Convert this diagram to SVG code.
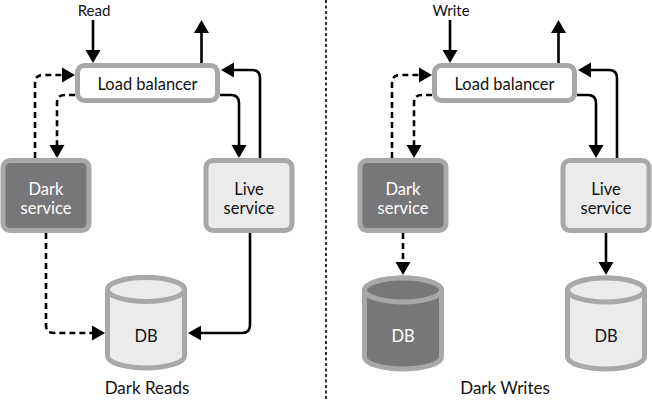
<svg xmlns="http://www.w3.org/2000/svg" width="652" height="400" viewBox="0 0 652 400">
<style>
text{font-family:Lato,"Liberation Sans",sans-serif;text-anchor:middle;fill:#111}
.lb{fill:#fff;stroke:#a8a8aa;stroke-width:5}
.dark{fill:#77777a;stroke:#a8a8aa;stroke-width:5}
.live{fill:#ebebec;stroke:#a8a8aa;stroke-width:5}
.wt{fill:#fff}
.c{fill:none;stroke:#000;stroke-width:2.6}
.d{stroke-dasharray:6 4}
.lbl{font-size:16.5px}
.top{font-size:15px}
.cap{font-size:17px}
</style>
<defs>
<marker id="ah" markerUnits="userSpaceOnUse" markerWidth="14" markerHeight="15" refX="0" refY="7.5" orient="auto" overflow="visible">
<path d="M0,0 L13,7.5 L0,15 z" fill="#000"/>
</marker>
</defs>
<line x1="326" y1="0" x2="326" y2="400" stroke="#000" stroke-width="1.6" stroke-dasharray="3 2.5"/>
<g id="connectors" class="conn">
<path class="c" marker-end="url(#ah)" d="M93,20 V50"/>
<path class="c" marker-end="url(#ah)" d="M201.5,63 V33"/>
<path class="c" marker-end="url(#ah)" d="M260,158 V78 Q260,70 252,70 H234"/>
<path class="c" marker-end="url(#ah)" d="M220,95 H231 Q239,95 239,103 V145"/>
<path class="c d" marker-end="url(#ah)" d="M35,158 V83 Q35,75 43,75 H62"/>
<path class="c d" marker-end="url(#ah)" d="M75,95 H65 Q57,95 57,103 V145"/>
<path class="c d" marker-end="url(#ah)" d="M46,233 V325 Q46,333 54,333 H92"/>
<path class="c" marker-end="url(#ah)" d="M250,233 V325 Q250,333 242,333 H201"/>
<path class="c" marker-end="url(#ah)" d="M450,20 V50"/>
<path class="c" marker-end="url(#ah)" d="M558.5,63 V33"/>
<path class="c" marker-end="url(#ah)" d="M617,158 V78 Q617,70 609,70 H591"/>
<path class="c" marker-end="url(#ah)" d="M577,95 H588 Q596,95 596,103 V145"/>
<path class="c d" marker-end="url(#ah)" d="M392,158 V83 Q392,75 400,75 H419"/>
<path class="c d" marker-end="url(#ah)" d="M432,95 H422 Q414,95 414,103 V145"/>
<path class="c d" marker-end="url(#ah)" d="M403,233 V262"/>
<path class="c" marker-end="url(#ah)" d="M606,233 V262"/>
</g>
<g id="lb-read">
<rect class="lb" x="77.5" y="65.5" width="140" height="35" rx="7"/>
<text class="lbl" x="147.5" y="89.5">Load balancer</text>
</g>
<g id="dark-read">
<rect class="dark" x="3" y="160.5" width="86" height="70" rx="7"/>
<text class="lbl wt" x="46" y="195">Dark</text>
<text class="lbl wt" x="46" y="213.5">service</text>
</g>
<g id="live-read">
<rect class="live" x="206" y="160.5" width="86" height="70" rx="7"/>
<text class="lbl" x="249" y="195">Live</text>
<text class="lbl" x="249" y="213.5">service</text>
</g>
<g id="db-read">
<path class="live" d="M107.5,289.5 A38.5,12 0 0 1 184.5,289.5 V356 A38.5,12 0 0 1 107.5,356 Z"/>
<ellipse class="live" cx="146" cy="289.5" rx="38.5" ry="12"/>
<text class="lbl" x="146" y="342">DB</text>
</g>
<g id="lb-write">
<rect class="lb" x="434.5" y="65.5" width="140" height="35" rx="7"/>
<text class="lbl" x="504.5" y="89.5">Load balancer</text>
</g>
<g id="dark-write">
<rect class="dark" x="360" y="160.5" width="86" height="70" rx="7"/>
<text class="lbl wt" x="403" y="195">Dark</text>
<text class="lbl wt" x="403" y="213.5">service</text>
</g>
<g id="live-write">
<rect class="live" x="563" y="160.5" width="86" height="70" rx="7"/>
<text class="lbl" x="606" y="195">Live</text>
<text class="lbl" x="606" y="213.5">service</text>
</g>
<g id="db-dark-write">
<path class="dark" d="M364.5,290 A38.5,12 0 0 1 441.5,290 V357 A38.5,12 0 0 1 364.5,357 Z"/>
<ellipse class="dark" cx="403" cy="290" rx="38.5" ry="12"/>
<text class="lbl wt" x="403" y="342">DB</text>
</g>
<g id="db-live-write">
<path class="live" d="M567.5,290 A38.5,12 0 0 1 644.5,290 V357 A38.5,12 0 0 1 567.5,357 Z"/>
<ellipse class="live" cx="606" cy="290" rx="38.5" ry="12"/>
<text class="lbl" x="606" y="342">DB</text>
</g>
<text class="top" x="94" y="15.5">Read</text>
<text class="top" x="451" y="15.5">Write</text>
<text class="cap" x="147" y="394">Dark Reads</text>
<text class="cap" x="505" y="394">Dark Writes</text>
</svg>
